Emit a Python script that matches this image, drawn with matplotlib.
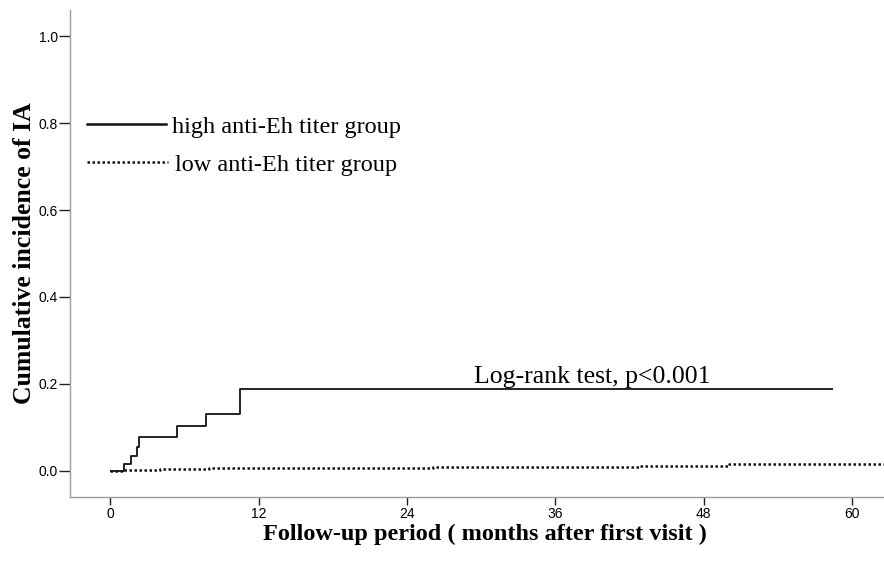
import matplotlib
matplotlib.use("Agg")
import matplotlib.pyplot as plt
from matplotlib.lines import Line2D

# Data
high_t = [0.0, 1.08, 1.68, 2.13, 2.37, 5.4, 7.77, 10.53, 58.5]
high_y = [0.0, 0.015, 0.035, 0.056, 0.078, 0.104, 0.132, 0.188, 0.188]
low_t = [0.0, 1.0, 4.0, 8.0, 26.1, 42.8, 50.1, 63.0]
low_y = [0.0, 0.002, 0.004, 0.006, 0.010, 0.012, 0.015, 0.015]
xticks = [0, 12, 24, 36, 48, 60]
yticks = [0.0, 0.2, 0.4, 0.6, 0.8, 1.0]
legend_labels = ["high anti-Eh titer group", "low anti-Eh titer group"]

fig = plt.figure(figsize=(8.84, 5.62), dpi=100)
ax = fig.add_axes([70/884, 65/562, 1 - 70/884, (497-10)/562])

ax.step(high_t, high_y, where="post", color="#111111", lw=1.3, solid_capstyle="butt")
ax.step(low_t, low_y, where="post", color="#111111", lw=1.8, linestyle=(0, (1.0, 1.0)))

ax.set_xlim(-3.25, 62.6)
ax.set_ylim(-0.06, 1.06)
ax.set_xticks(xticks)
ax.set_xticklabels([str(t) for t in xticks], family="Liberation Sans", fontsize=10)
ax.set_yticks(yticks)
ax.set_yticklabels([f"{v:.1f}" for v in yticks], family="Liberation Sans", fontsize=10)
ax.tick_params(axis="y", direction="out", length=8, width=1, color="#222222", pad=0.5)
ax.tick_params(axis="x", direction="out", length=6, width=1, color="#222222", pad=1.5)

for s in ["top", "right"]:
    ax.spines[s].set_visible(False)
for s in ["left", "bottom"]:
    ax.spines[s].set_color("#9a9a9a")
    ax.spines[s].set_linewidth(1.0)

ax.set_xlabel("Follow-up period ( months after first visit )", family="Liberation Serif",
              fontweight="bold", fontsize=17.5, labelpad=2)
ax.xaxis.label.set_x((485 - 70) / 814)
ax.set_ylabel("Cumulative incidence of IA", family="Liberation Serif",
              fontweight="bold", fontsize=18.5, labelpad=2)

# Legend drawn manually
tr = fig.transFigure
def fx(px): return px / 884
def fy(py): return 1 - py / 562
fig.add_artist(Line2D([fx(87), fx(166)], [fy(124), fy(124)], transform=tr, color="#111111", lw=1.8))
fig.add_artist(Line2D([fx(87), fx(168)], [fy(162), fy(162)], transform=tr, color="#111111", lw=1.8,
                      linestyle=(0, (1.0, 1.0))))
fig.text(fx(172), fy(127), legend_labels[0], family="Liberation Serif", fontsize=17.5, va="center")
fig.text(fx(175), fy(165), legend_labels[1], family="Liberation Serif", fontsize=17.5, va="center")

ax.text(39.0, 0.203, "Log-rank test, p<0.001", family="Liberation Serif", fontsize=18.5,
        ha="center", va="baseline")

fig.savefig("out.png", dpi=100)
